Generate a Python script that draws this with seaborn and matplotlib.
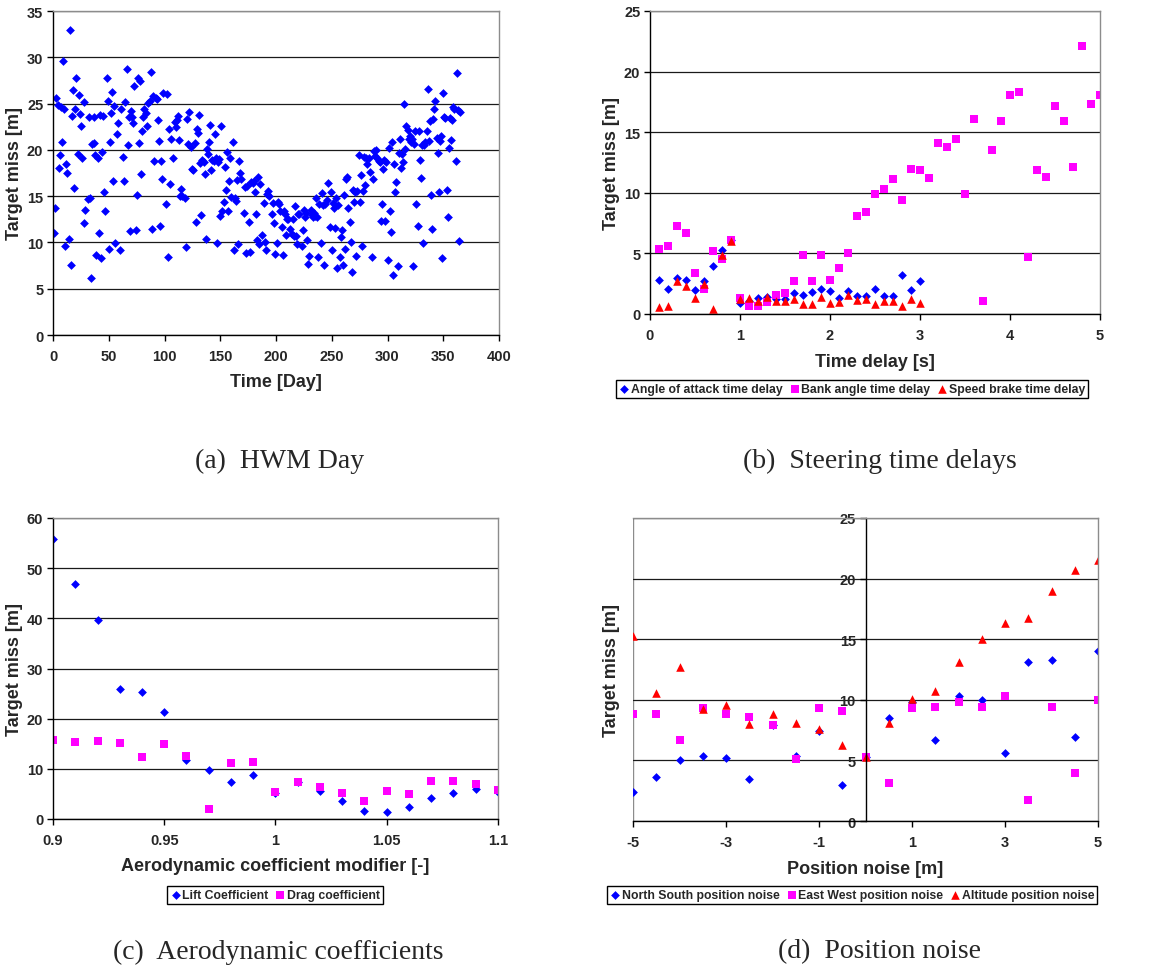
import matplotlib
matplotlib.use("Agg")
import matplotlib.pyplot as plt
import seaborn as sns

# ---------------------------------------------------------------- data
# (a) target miss over the HWM day of year
hwm_day = [1, 2, 3, 4.5, 5.4, 6, 7, 8, 9, 10, 11, 12, 13, 14, 15, 16, 17, 18, 19, 20,
           21, 22, 23, 24, 25, 26, 27.5, 28, 29, 31, 32, 33, 34, 35, 36.5, 37, 38, 39, 40, 41,
           42, 43, 44, 45, 46, 47, 48, 49, 50, 51, 52, 53, 54, 55, 56, 57, 58, 60, 61, 63,
           64, 65, 66, 67, 68, 69, 70, 71, 72, 73, 74, 75, 76, 77, 78, 79, 80, 81, 82, 83,
           84, 85, 87, 88, 89, 90, 91, 92, 93, 94, 95, 96, 97, 98, 99, 101, 102, 103, 104, 105,
           106, 108, 109, 110, 111, 112, 113, 114, 115, 116, 118, 119, 120, 121, 122, 124, 125, 126, 127, 128,
           129, 130, 131, 132, 133, 134, 135, 136, 137, 138, 139, 140, 141, 142, 143, 144, 145, 146, 147, 148,
           149, 150, 151, 152, 153, 154, 155, 156, 157, 158, 159, 160, 161, 162, 163, 164, 165, 166, 167, 168,
           169, 171, 172, 173, 174, 176, 177, 178, 179, 180, 181, 182, 183, 184, 185, 186, 187, 189, 190, 191,
           192, 193, 194, 196, 197, 198, 199, 201, 202, 203, 204, 205, 206, 207, 208, 209, 210, 211, 213, 214,
           215, 216, 217, 218, 219, 220, 221, 223, 224, 225, 226, 227, 228, 229, 230, 231, 232, 233, 234, 235,
           236, 237, 238, 239, 240, 241, 242, 243, 244, 245.5, 247, 248, 249, 250, 251, 252, 253, 254, 255, 256,
           257, 258, 259, 260, 261, 262, 263, 264, 265, 266, 267, 268, 269, 270, 271, 272, 273, 274, 275, 276,
           277, 278, 279, 280, 281, 282, 283, 284, 286, 287, 288, 289, 290, 291, 292, 293, 294, 295, 296, 297,
           298, 299, 300, 301, 302, 303, 304, 305, 306, 307, 308, 309, 310, 311, 312, 313, 314, 315, 316, 317,
           318, 319, 320, 321, 322, 323, 324, 325, 326, 327, 328, 329, 330, 331, 332, 333, 334, 335, 336, 337,
           338, 339, 340, 341, 342, 343, 344, 345, 346, 347, 348, 349, 350, 351, 352, 353, 354, 355, 356, 357,
           358, 359, 360, 361, 362, 363, 364, 365]
hwm_miss = [11.0, 13.7, 25.6, 24.8, 18.0, 19.4, 24.6, 20.9, 29.6, 24.4, 9.6, 18.5, 17.5, 10.4, 33.0, 7.6, 23.7, 26.5, 15.9, 24.4,
            27.8, 19.6, 25.9, 23.9, 22.6, 19.1, 25.2, 12.1, 13.5, 14.7, 23.6, 14.8, 6.2, 20.6, 20.7, 23.6, 19.4, 8.6, 19.1, 11.0,
            23.8, 8.3, 19.8, 23.7, 15.4, 13.4, 27.8, 25.3, 9.3, 20.8, 24.0, 26.2, 16.6, 24.7, 9.9, 21.7, 22.9, 9.2, 24.4, 19.2,
            16.6, 25.2, 28.7, 20.5, 23.5, 11.2, 24.2, 23.5, 22.9, 26.9, 11.3, 15.1, 27.8, 20.7, 27.4, 17.4, 22.0, 23.5, 24.4, 24.0,
            22.6, 25.1, 25.3, 28.4, 11.5, 25.8, 18.8, 25.6, 25.5, 23.2, 21.0, 11.8, 18.8, 16.9, 26.1, 14.2, 26.0, 8.4, 22.2, 16.3,
            21.2, 19.1, 23.0, 22.5, 23.2, 23.7, 21.1, 15.0, 15.8, 15.0, 14.8, 9.5, 23.3, 20.6, 24.1, 20.3, 17.9, 17.8, 20.7, 12.2,
            22.2, 21.8, 23.8, 18.6, 13.0, 18.9, 18.7, 17.4, 10.4, 20.1, 19.6, 20.8, 22.7, 17.8, 18.9, 18.8, 21.7, 19.1, 9.9, 18.7,
            19.0, 12.9, 22.6, 13.4, 14.4, 18.1, 15.7, 19.8, 13.4, 16.6, 19.1, 14.9, 20.8, 9.2, 14.8, 14.5, 16.7, 9.8, 18.8, 17.5,
            16.8, 13.2, 16.0, 8.9, 16.1, 12.2, 9.0, 16.5, 16.4, 16.6, 15.5, 13.1, 10.3, 17.1, 9.8, 16.3, 10.8, 14.3, 10.1, 9.2,
            15.2, 15.6, 15.0, 13.1, 14.3, 12.1, 8.7, 9.9, 14.4, 14.2, 13.4, 11.7, 8.6, 13.4, 13.1, 10.8, 12.5, 12.5, 11.4, 10.9,
            12.5, 10.7, 13.9, 10.7, 9.8, 13.1, 13.1, 9.6, 11.3, 13.5, 12.7, 13.2, 10.3, 7.7, 8.5, 13.5, 13.0, 12.8, 13.2, 12.9,
            14.8, 12.8, 8.4, 14.1, 9.9, 15.3, 14.0, 7.6, 14.1, 14.6, 16.4, 11.7, 15.4, 9.2, 14.3, 13.7, 11.6, 14.8, 7.2, 14.0,
            8.4, 10.6, 11.3, 7.6, 15.1, 9.3, 16.9, 17.1, 13.7, 12.2, 10.1, 6.8, 15.7, 14.4, 15.4, 8.5, 15.6, 19.4, 14.4, 17.3,
            9.6, 15.6, 19.2, 16.2, 19.1, 18.5, 19.1, 17.6, 8.4, 16.8, 19.9, 19.3, 20.0, 19.1, 18.8, 18.7, 12.3, 14.1, 17.9, 18.9,
            12.3, 18.7, 8.1, 20.2, 13.4, 11.1, 20.9, 6.5, 18.5, 15.5, 16.5, 7.5, 19.7, 21.2, 18.0, 19.6, 18.7, 24.9, 20.1, 22.6,
            22.1, 21.2, 21.5, 20.9, 21.2, 7.5, 20.6, 22.0, 14.1, 11.8, 22.0, 18.9, 17.0, 20.5, 9.9, 20.5, 20.9, 22.0, 26.6, 21.0,
            23.1, 15.1, 11.4, 23.3, 24.4, 25.3, 21.3, 19.7, 15.4, 21.0, 21.5, 8.3, 26.1, 23.5, 23.4, 15.7, 12.7, 20.2, 23.4, 21.1,
            23.2, 24.6, 24.4, 18.8, 28.3, 24.3, 10.2, 24.1]

# (b) steering time delays
bank_delay = [0.1, 0.2, 0.3, 0.4, 0.5, 0.6, 0.7, 0.8, 0.9, 1.0, 1.1, 1.2, 1.3, 1.4, 1.5, 1.6, 1.7,
              1.8, 1.9, 2.0, 2.1, 2.2, 2.3, 2.4, 2.5, 2.6, 2.7, 2.8, 2.9, 3.0, 3.1, 3.2, 3.3, 3.4,
              3.5, 3.6, 3.7, 3.8, 3.9, 4.0, 4.1, 4.2, 4.3, 4.4, 4.5, 4.6, 4.7, 4.8, 4.9, 5.0]
bank_miss = [5.4, 5.6, 7.3, 6.7, 3.4, 2.1, 5.2, 4.5, 6.1, 1.3, 0.7, 0.7, 1.0, 1.6, 1.7, 2.7, 4.9,
             2.7, 4.9, 2.8, 3.8, 5.0, 8.1, 8.4, 9.9, 10.3, 11.1, 9.4, 12.0, 11.9, 11.2, 14.1, 13.8, 14.4,
             9.9, 16.1, 1.1, 13.5, 15.9, 18.1, 18.3, 4.7, 11.9, 11.3, 17.2, 15.9, 12.1, 22.1, 17.3, 18.1]
short_delay = [0.1, 0.2, 0.3, 0.4, 0.5, 0.6, 0.7, 0.8, 0.9, 1.0, 1.1, 1.2, 1.3, 1.4, 1.5,
               1.6, 1.7, 1.8, 1.9, 2.0, 2.1, 2.2, 2.3, 2.4, 2.5, 2.6, 2.7, 2.8, 2.9, 3.0]
aoa_miss = [2.8, 2.1, 3.0, 2.8, 2.0, 2.7, 4.0, 5.3, 6.1, 0.9, 1.1, 1.3, 1.4, 1.2, 1.2,
            1.7, 1.6, 1.8, 2.1, 1.9, 1.3, 1.9, 1.5, 1.5, 2.1, 1.5, 1.5, 3.2, 2.0, 2.7]
brake_miss = [0.55, 0.7, 2.7, 2.3, 1.3, 2.5, 0.4, 4.9, 6.0, 1.2, 1.3, 1.1, 1.4, 1.1, 1.1,
              1.2, 0.8, 0.8, 1.4, 0.9, 1.0, 1.6, 1.15, 1.2, 0.8, 1.05, 1.1, 0.7, 1.2, 0.9]

# (c) aerodynamic coefficient modifier
aero_mod = [0.90, 0.91, 0.92, 0.93, 0.94, 0.95, 0.96, 0.97, 0.98, 0.99, 1.00,
            1.01, 1.02, 1.03, 1.04, 1.05, 1.06, 1.07, 1.08, 1.09, 1.10]
lift_miss = [55.9, 46.8, 39.6, 26.0, 25.4, 21.3, 11.7, 9.7, 7.4, 8.8, 5.2,
             7.4, 5.5, 3.6, 1.5, 1.3, 2.3, 4.2, 5.1, 6.0, 5.4]
drag_miss = [15.8, 15.3, 15.5, 15.1, 12.4, 15.0, 12.5, 1.9, 11.1, 11.4, 5.3,
             7.4, 6.3, 5.2, 3.6, 5.6, 5.0, 7.5, 7.6, 6.9, 5.8]
aero_ticks = [0.9, 0.95, 1.0, 1.05, 1.1]
aero_tick_labels = ['0.9', '0.95', '1', '1.05', '1.1']

# (d) position noise
noise = [-5, -4.5, -4, -3.5, -3, -2.5, -2, -1.5, -1, -0.5, 0,
         0.5, 1, 1.5, 2, 2.5, 3, 3.5, 4, 4.5, 5]
ns_miss = [2.4, 3.6, 5.0, 5.4, 5.2, 3.5, 7.9, 5.4, 7.45, 3.0, 5.25,
           8.5, 9.85, 6.65, 10.3, 9.95, 5.6, 13.1, 13.3, 6.9, 14.05]
ew_miss = [8.8, 8.8, 6.7, 9.3, 8.8, 8.6, 7.9, 5.1, 9.3, 9.1, 5.25,
           3.1, 9.3, 9.4, 9.8, 9.4, 10.3, 1.75, 9.4, 3.95, 10.0]
alt_miss = [15.3, 10.6, 12.7, 9.2, 9.6, 8.0, 8.8, 8.1, 7.6, 6.3, 5.25,
            8.1, 10.1, 10.75, 13.1, 15.0, 16.3, 16.75, 19.0, 20.7, 21.5]
noise_ticks = [-5, -3, -1, 1, 3, 5]
noise_tick_labels = ['-5', '-3', '-1', '1', '3', '5']

# ---------------------------------------------------------------- style
sns.set_theme(style="white")
plt.rcParams['font.family'] = ['Liberation Sans', 'DejaVu Sans']
plt.rcParams['font.weight'] = 'bold'
plt.rcParams['axes.labelweight'] = 'bold'
plt.rcParams['axes.unicode_minus'] = False

BLUE, MAGENTA, RED = '#0000FF', '#FF00FF', '#FF0000'
FRAME = '#8c8c8c'
GRID = '#1a1a1a'
W, H = 1164, 978
S_DIAMOND, S_SQUARE, S_TRIANGLE = 20, 32, 38

fig = plt.figure(figsize=(W / 100, H / 100), dpi=100)


def px_axes(left, top, right, bottom):
    return fig.add_axes([left / W, 1 - bottom / H, (right - left) / W, (bottom - top) / H])


def style(ax, ylim, ystep):
    ax.set_ylim(*ylim)
    ax.set_yticks(list(range(ylim[0], ylim[1] + 1, ystep)))
    ax.grid(axis='y', color=GRID, linewidth=0.9)
    ax.grid(axis='x', visible=False)
    ax.set_axisbelow(True)
    for side in ('top', 'right'):
        ax.spines[side].set_color(FRAME)
        ax.spines[side].set_linewidth(1.0)
    for side in ('left', 'bottom'):
        ax.spines[side].set_color('black')
        ax.spines[side].set_linewidth(1.0)
    ax.tick_params(direction='out', length=4, width=1, color='black',
                   labelsize=10.5, left=True, bottom=True)
    ax.tick_params(axis='x', pad=6)
    ax.tick_params(axis='y', pad=3)
    ax.set_ylabel('Target miss [m]', fontsize=13, fontweight='bold')


def legend(ax, cx, cy):
    handles, labels = ax.get_legend_handles_labels()
    leg = ax.legend(handles, labels, ncol=len(labels), loc='center',
                    bbox_to_anchor=(cx / W, 1 - cy / H), bbox_transform=fig.transFigure,
                    frameon=True, fancybox=False, edgecolor='black', framealpha=1,
                    handletextpad=0.1, columnspacing=0.5, borderpad=0.25,
                    handlelength=0.9, borderaxespad=0,
                    prop={'weight': 'bold', 'size': 8.8})
    leg.get_frame().set_linewidth(1.0)


def caption(text, cx, cy):
    fig.text(cx / W, 1 - cy / H, text, ha='center', va='center',
             fontsize=20, fontfamily='Liberation Serif', fontweight='normal')


# ---------------------------------------------------------------- (a) HWM day
ax_a = px_axes(53, 12, 499, 336)
sns.scatterplot(x=hwm_day, y=hwm_miss, ax=ax_a, marker='D', s=S_DIAMOND, color=BLUE,
                linewidth=0, legend=False)
ax_a.set_xlim(0, 400)
ax_a.set_xticks(range(0, 401, 50))
style(ax_a, (0, 35), 5)
ax_a.set_xlabel('Time [Day]', fontsize=13, fontweight='bold')
ax_a.yaxis.set_label_coords(-0.067, 0.5)
ax_a.xaxis.set_label_coords(0.5, -0.117)
caption('(a)  HWM Day', 280, 461)

# ---------------------------------------------------------------- (b) time delays
ax_b = px_axes(650, 12, 1100, 315)
sns.scatterplot(x=short_delay, y=aoa_miss, ax=ax_b, marker='D', s=S_DIAMOND, color=BLUE,
                linewidth=0, label='Angle of attack time delay')
sns.scatterplot(x=bank_delay, y=bank_miss, ax=ax_b, marker='s', s=S_SQUARE, color=MAGENTA,
                linewidth=0, label='Bank angle time delay')
sns.scatterplot(x=short_delay, y=brake_miss, ax=ax_b, marker='^', s=S_TRIANGLE, color=RED,
                linewidth=0, label='Speed brake time delay')
ax_b.set_xlim(0, 5)
ax_b.set_xticks(range(0, 6))
style(ax_b, (0, 25), 5)
ax_b.set_xlabel('Time delay [s]', fontsize=13, fontweight='bold')
ax_b.yaxis.set_label_coords(-0.067, 0.5)
ax_b.xaxis.set_label_coords(0.5, -0.129)
legend(ax_b, 852, 390)
caption('(b)  Steering time delays', 880, 461)

# ---------------------------------------------------------------- (c) aerodynamics
ax_c = px_axes(53, 519, 498, 820)
sns.scatterplot(x=aero_mod, y=lift_miss, ax=ax_c, marker='D', s=S_DIAMOND, color=BLUE,
                linewidth=0, label='Lift Coefficient')
sns.scatterplot(x=aero_mod, y=drag_miss, ax=ax_c, marker='s', s=S_SQUARE, color=MAGENTA,
                linewidth=0, label='Drag coefficient')
ax_c.set_xlim(0.9, 1.1)
ax_c.set_xticks(aero_ticks)
ax_c.set_xticklabels(aero_tick_labels)
style(ax_c, (0, 60), 10)
ax_c.set_xlabel('Aerodynamic coefficient modifier [-]', fontsize=13, fontweight='bold')
ax_c.yaxis.set_label_coords(-0.067, 0.5)
ax_c.xaxis.set_label_coords(0.5, -0.126)
legend(ax_c, 275, 896)
caption('(c)  Aerodynamic coefficients', 278, 952)

# ---------------------------------------------------------------- (d) position noise
ax_d = px_axes(633, 519, 1098, 822)
sns.scatterplot(x=noise, y=ns_miss, ax=ax_d, marker='D', s=S_DIAMOND, color=BLUE,
                linewidth=0, label='North South position noise')
sns.scatterplot(x=noise, y=ew_miss, ax=ax_d, marker='s', s=S_SQUARE, color=MAGENTA,
                linewidth=0, label='East West position noise')
sns.scatterplot(x=noise, y=alt_miss, ax=ax_d, marker='^', s=S_TRIANGLE, color=RED,
                linewidth=0, label='Altitude position noise')
ax_d.set_xlim(-5, 5)
ax_d.set_xticks(noise_ticks)
ax_d.set_xticklabels(noise_tick_labels)
style(ax_d, (0, 25), 5)
# value axis crosses the category axis at zero
ax_d.spines['left'].set_position(('data', 0))
ax_d.axvline(-5, color=FRAME, linewidth=1.0, zorder=0.5)
ax_d.set_xlabel('Position noise [m]', fontsize=13, fontweight='bold')
ax_d.yaxis.set_label_coords(-0.028, 0.5)
ax_d.xaxis.set_label_coords(0.5, -0.129)
legend(ax_d, 852, 896)
caption('(d)  Position noise', 880, 952)

fig.savefig('out.png', dpi=100)
